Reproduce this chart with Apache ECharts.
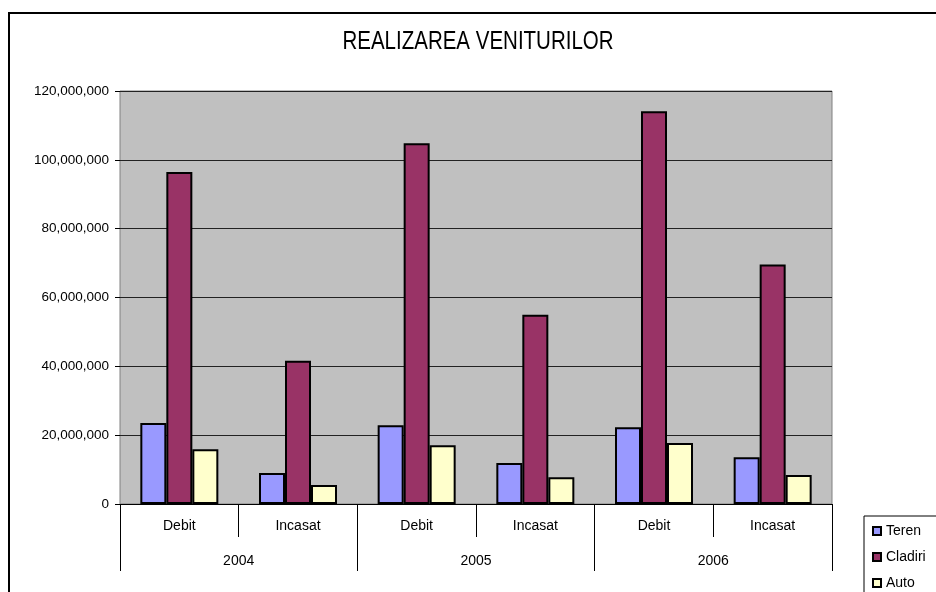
<!DOCTYPE html>
<html>
<head>
<meta charset="utf-8">
<script src="https://cdn.jsdelivr.net/npm/echarts@6/dist/echarts.min.js"></script>
<style>
  html, body { margin: 0; padding: 0; background: #fff; }
  #chart { width: 936px; height: 592px; }
</style>
</head>
<body>
<div id="chart"></div>
<script>
// categorii (nivel 1 si nivel 2)
var categorii = ['Debit', 'Incasat', 'Debit', 'Incasat', 'Debit', 'Incasat'];
var ani = ['2004', '2005', '2006'];

// valori
var teren   = [23500000, 9000000, 22900000, 11900000, 22300000, 13600000];
var cladiri = [96500000, 41600000, 104800000, 55000000, 114100000, 69600000];
var auto    = [15900000, 5500000, 17100000, 7800000, 17700000, 8400000];

var yTicks = [0, 20000000, 40000000, 60000000, 80000000, 100000000, 120000000];

var font = 'Liberation Sans, Arial, sans-serif';

function fmt(v) {
    return String(v).replace(/\B(?=(\d{3})+(?!\d))/g, ',');
}

function bara(nume, date, culoare) {
    return {
        name: nume,
        type: 'bar',
        xAxisIndex: 0,
        data: date,
        barWidth: 26,
        barGap: '0%',
        itemStyle: { color: culoare, borderColor: '#000', borderWidth: 2 }
    };
}

var myChart = echarts.init(document.getElementById('chart'));
var option = {
    animation: false,
    backgroundColor: '#fff',
    graphic: [{
        type: 'rect',
        shape: { x: 9, y: 13, width: 1000, height: 1000 },
        style: { fill: 'none', stroke: '#000', lineWidth: 2 },
        silent: true
    }, {
        // titlu (font ingust)
        type: 'text',
        x: 478,
        y: 42,
        scaleX: 0.82,
        style: {
            text: 'REALIZAREA VENITURILOR',
            font: '25px Liberation Sans, Arial, sans-serif',
            fill: '#000',
            align: 'center',
            verticalAlign: 'middle'
        },
        silent: true
    }],
    legend: {
        orient: 'vertical',
        left: 864,
        top: 516,
        height: 80,
        padding: [7, 60, 3, 8],
        itemGap: 10,
        itemWidth: 8,
        itemHeight: 8,
        icon: 'rect',
        borderColor: '#000',
        borderWidth: 1,
        textStyle: { fontFamily: font, fontSize: 14, color: '#000', lineHeight: 16 },
        data: ['Teren', 'Cladiri', 'Auto']
    },
    grid: {
        left: 120,
        right: 104,
        top: 91,
        bottom: 88,
        show: true,
        backgroundColor: '#C0C0C0',
        borderColor: '#808080',
        borderWidth: 1
    },
    xAxis: [{
        type: 'category',
        data: categorii,
        position: 'bottom',
        axisLine: { lineStyle: { color: '#000', width: 1 } },
        axisTick: { show: true, interval: 0, length: 33, lineStyle: { color: '#000' } },
        axisLabel: { margin: 15, fontFamily: font, fontSize: 14, color: '#000' }
    }, {
        type: 'category',
        data: ani,
        position: 'bottom',
        axisLine: { show: false },
        axisTick: { show: true, interval: 0, length: 67, lineStyle: { color: '#000' } },
        axisLabel: { margin: 50, fontFamily: font, fontSize: 14, color: '#000' }
    }],
    yAxis: {
        type: 'value',
        min: yTicks[0],
        max: yTicks[yTicks.length - 1],
        interval: yTicks[1] - yTicks[0],
        axisLine: { show: false },
        axisTick: { show: true, length: 5, lineStyle: { color: '#000' } },
        splitLine: { lineStyle: { color: '#222', width: 1 } },
        axisLabel: {
            margin: 11,
            fontFamily: font,
            fontSize: 13.5,
            color: '#000',
            formatter: fmt
        }
    },
    series: [
        bara('Teren', teren, '#9999FF'),
        bara('Cladiri', cladiri, '#993366'),
        bara('Auto', auto, '#FFFFCC')
    ]
};
myChart.setOption(option);
</script>
</body>
</html>
